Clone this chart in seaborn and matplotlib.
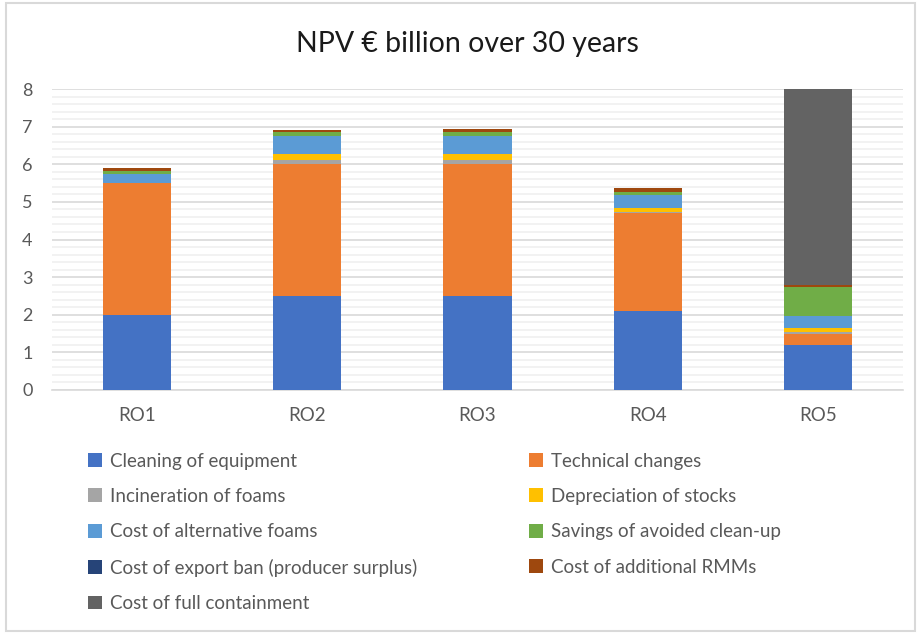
import matplotlib
matplotlib.use("Agg")
import matplotlib.pyplot as plt
from matplotlib.patches import Patch, Rectangle
import numpy as np
import pandas as pd
import seaborn as sns

# Daten (NPV in Mrd. EUR)
options = ["RO1", "RO2", "RO3", "RO4", "RO5"]
cleaning = [2.0, 2.5, 2.5, 2.1, 1.19]
technical = [3.5, 3.5, 3.5, 2.6, 0.3]
incineration = [0.0, 0.11, 0.11, 0.04, 0.05]
depreciation = [0.0, 0.16, 0.16, 0.09, 0.12]
alt_foams = [0.24, 0.48, 0.48, 0.34, 0.31]
savings = [0.08, 0.11, 0.11, 0.10, 0.76]
export_ban = [0.0, 0.0, 0.0, 0.0, 0.0]
rmms = [0.08, 0.06, 0.09, 0.09, 0.06]
containment = [0.0, 0.0, 0.0, 0.0, 5.21]

series = [
    ("Cleaning of equipment", cleaning, "#4472C4"),
    ("Technical changes", technical, "#ED7D31"),
    ("Incineration of foams", incineration, "#A5A5A5"),
    ("Depreciation of stocks", depreciation, "#FFC000"),
    ("Cost of alternative foams", alt_foams, "#5B9BD5"),
    ("Savings of avoided clean-up", savings, "#70AD47"),
    ("Cost of export ban (producer surplus)", export_ban, "#264478"),
    ("Cost of additional RMMs", rmms, "#9E480E"),
    ("Cost of full containment", containment, "#636363"),
]

sns.set_style("white")
plt.rcParams["font.family"] = ["Lato", "DejaVu Sans"]

fig = plt.figure(figsize=(9.2, 6.33), dpi=100)
ax = fig.add_axes([52 / 920, 1 - 390 / 633, 851 / 920, 301 / 633])

# gestapelte Balken
bottom = np.zeros(len(options))
for name, vals, col in series:
    df = pd.DataFrame({"option": options, "value": vals})
    sns.barplot(data=df, x="option", y="value", color=col, saturation=1, width=0.4,
                errorbar=None, bottom=bottom, linewidth=0, ax=ax, zorder=3)
    bottom = bottom + np.array(vals)

ax.set_ylim(0, 8)
ax.set_xlim(-0.5, len(options) - 0.5)
ax.set_yticks(np.arange(0, 9, 1))
ax.set_yticks(np.arange(0, 8.01, 0.2), minor=True)
ax.grid(axis="y", which="major", color="#d9d9d9", linewidth=1.2, zorder=0)
ax.grid(axis="y", which="minor", color="#f0f0f0", linewidth=1.2, zorder=0)
ax.set_axisbelow(True)
for s in ["top", "right", "left"]:
    ax.spines[s].set_visible(False)
ax.spines["bottom"].set_color("#d9d9d9")
ax.spines["bottom"].set_linewidth(1.2)
ax.tick_params(axis="y", which="both", length=0, pad=14, labelsize=13, labelcolor="#595959")
ax.tick_params(axis="x", length=0, pad=12, labelsize=13.5, labelcolor="#595959")
ax.set_xlabel("")
ax.set_ylabel("")

fig.text(467 / 920, 1 - 44 / 633, "NPV € billion over 30 years", ha="center", va="center",
         fontsize=20.5, color="#1a1a1a")

# Legende in zwei Spalten (zeilenweise wie Excel)
handles = [Patch(facecolor=c, edgecolor="none") for _, _, c in series]
labels = [n for n, _, _ in series]
left_idx = [0, 2, 4, 6, 8]
right_idx = [1, 3, 5, 7]
leg_kw = dict(frameon=False, fontsize=13.5, handlelength=0.75, handleheight=0.75,
              handletextpad=0.4, labelspacing=0.98, labelcolor="#595959", loc="upper left",
              borderaxespad=0, borderpad=0)
fig.legend([handles[i] for i in left_idx], [labels[i] for i in left_idx],
           bbox_to_anchor=(88 / 920, 1 - 452.5 / 633), **leg_kw)
fig.legend([handles[i] for i in right_idx], [labels[i] for i in right_idx],
           bbox_to_anchor=(529 / 920, 1 - 452.5 / 633), **leg_kw)

# Rahmen
fig.patches.append(Rectangle((6 / 920, 2 / 633), 909 / 920, 628 / 633, transform=fig.transFigure,
                             fill=False, edgecolor="#d9d9d9", linewidth=1.5))

fig.savefig("out.png", dpi=100)
